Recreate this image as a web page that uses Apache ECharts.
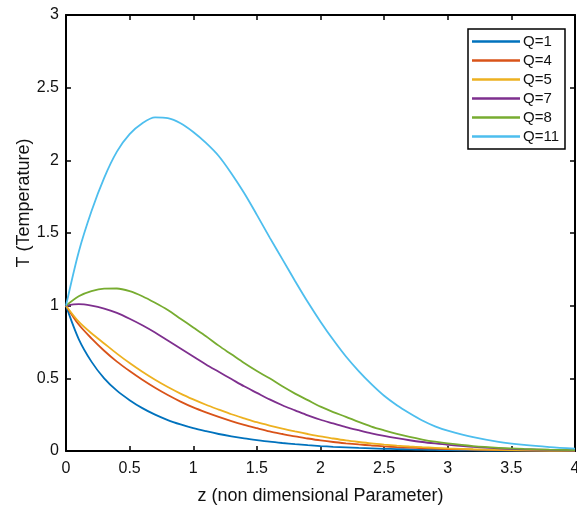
<!DOCTYPE html>
<html>
<head>
<meta charset="utf-8">
<script src="https://cdn.jsdelivr.net/npm/echarts@6/dist/echarts.min.js"></script>
<style>html,body{margin:0;padding:0;background:#fff;}#c{width:577px;height:509px;}</style>
</head>
<body>
<div id="c"></div>
<script>
const zValues = [0,0.1,0.2,0.3,0.4,0.5,0.6,0.7,0.8,0.9,1.0,1.1,1.2,1.3,1.4,1.5,1.6,1.7,1.8,1.9,2.0,2.1,2.2,2.3,2.4,2.5,2.6,2.7,2.8,2.9,3.0,3.2,3.4,3.6,3.8,4.0];
const q1  = [1,0.77,0.615,0.5,0.415,0.35,0.295,0.25,0.213,0.183,0.157,0.136,0.117,0.101,0.087,0.075,0.064,0.055,0.047,0.04,0.034,0.029,0.025,0.021,0.018,0.015,0.013,0.011,0.009,0.008,0.006,0.004,0.003,0.002,0.001,0.001];
const q4  = [1,0.87,0.775,0.69,0.615,0.55,0.49,0.435,0.385,0.34,0.30,0.266,0.235,0.206,0.18,0.157,0.135,0.117,0.10,0.086,0.073,0.062,0.053,0.045,0.038,0.032,0.027,0.023,0.019,0.016,0.013,0.009,0.006,0.004,0.003,0.002];
const q5  = [1,0.89,0.81,0.74,0.67,0.605,0.545,0.49,0.44,0.395,0.355,0.318,0.285,0.253,0.225,0.198,0.175,0.154,0.135,0.117,0.10,0.086,0.073,0.062,0.052,0.044,0.037,0.031,0.026,0.022,0.018,0.012,0.008,0.005,0.003,0.002];
const q7  = [1,1.01,1.0,0.98,0.95,0.91,0.865,0.815,0.76,0.705,0.65,0.595,0.545,0.495,0.445,0.40,0.355,0.315,0.28,0.245,0.215,0.19,0.165,0.143,0.122,0.104,0.088,0.074,0.062,0.052,0.043,0.028,0.018,0.012,0.008,0.005];
const q8  = [1,1.065,1.10,1.117,1.118,1.10,1.065,1.02,0.97,0.91,0.85,0.79,0.725,0.665,0.605,0.55,0.50,0.445,0.395,0.35,0.305,0.268,0.235,0.2,0.168,0.142,0.118,0.097,0.079,0.064,0.052,0.034,0.022,0.014,0.009,0.006];
const q11 = [1,1.37,1.65,1.88,2.06,2.18,2.255,2.295,2.29,2.255,2.195,2.12,2.03,1.91,1.775,1.625,1.47,1.32,1.17,1.025,0.89,0.765,0.65,0.55,0.46,0.38,0.315,0.26,0.21,0.17,0.14,0.095,0.063,0.042,0.027,0.016];
const seriesNames = ['Q=1','Q=4','Q=5','Q=7','Q=8','Q=11'];
const seriesData = [q1,q4,q5,q7,q8,q11];
const colors = ['#0072BD','#D95319','#EDB120','#7E2F8E','#77AC30','#4DBEEE'];
const xTicks = {min:0,max:4,interval:0.5};
const yTicks = {min:0,max:3,interval:0.5};

const font = 'Liberation Sans, Arial, sans-serif';
const axisLine = {show:true, onZero:false, lineStyle:{color:'#000', width:2}};
const tick = {show:true, inside:true, length:5, lineStyle:{color:'#000', width:1.5}};
const chart = echarts.init(document.getElementById('c'));
chart.setOption({
  animation:false,
  backgroundColor:'#fff',
  color: colors,
  grid:{left:66, top:15, right:2, bottom:58, containLabel:false, outerBoundsMode:'none'},
  legend:{
    orient:'vertical', left:468, top:29,
    data: seriesNames,
    icon:'rect', itemWidth:48, itemHeight:2.5, itemGap:4,
    borderColor:'#000', borderWidth:1.5, backgroundColor:'#fff',
    padding:[5,6,5,4],
    textStyle:{fontFamily:font, fontSize:15, color:'#111', padding:[0,0,0,-2]}
  },
  xAxis:[{
    type:'value', min:xTicks.min, max:xTicks.max, interval:xTicks.interval,
    name:'z (non dimensional Parameter)', nameLocation:'middle', nameGap:36,
    nameTextStyle:{fontFamily:font, fontSize:18, color:'#111'},
    axisLine: axisLine, axisTick: tick,
    axisLabel:{fontFamily:font, fontSize:16, color:'#111', margin:10},
    splitLine:{show:false}
  },{
    type:'value', position:'top', min:xTicks.min, max:xTicks.max, interval:xTicks.interval,
    axisLine: axisLine, axisTick: tick,
    axisLabel:{show:false}, splitLine:{show:false}
  }],
  yAxis:[{
    type:'value', min:yTicks.min, max:yTicks.max, interval:yTicks.interval,
    name:'T (Temperature)', nameLocation:'middle', nameGap:33, nameMoveOverlap:false,
    nameTextStyle:{fontFamily:font, fontSize:18, color:'#111', padding:[0,0,0,60]},
    axisLine: axisLine, axisTick: tick,
    axisLabel:{fontFamily:font, fontSize:16, color:'#111', margin:7},
    splitLine:{show:false}
  },{
    type:'value', position:'right', min:yTicks.min, max:yTicks.max, interval:yTicks.interval,
    axisLine: axisLine, axisTick: tick,
    axisLabel:{show:false}, splitLine:{show:false}
  }],
  series: seriesNames.map((n,i)=>({
    name:n, type:'line', smooth:0.3, showSymbol:false, symbol:'none',
    xAxisIndex:0, yAxisIndex:0,
    lineStyle:{width:1.8, color:colors[i]},
    itemStyle:{color:colors[i]},
    data: zValues.map((z,k)=>[z, seriesData[i][k]])
  }))
});
</script>
</body>
</html>
